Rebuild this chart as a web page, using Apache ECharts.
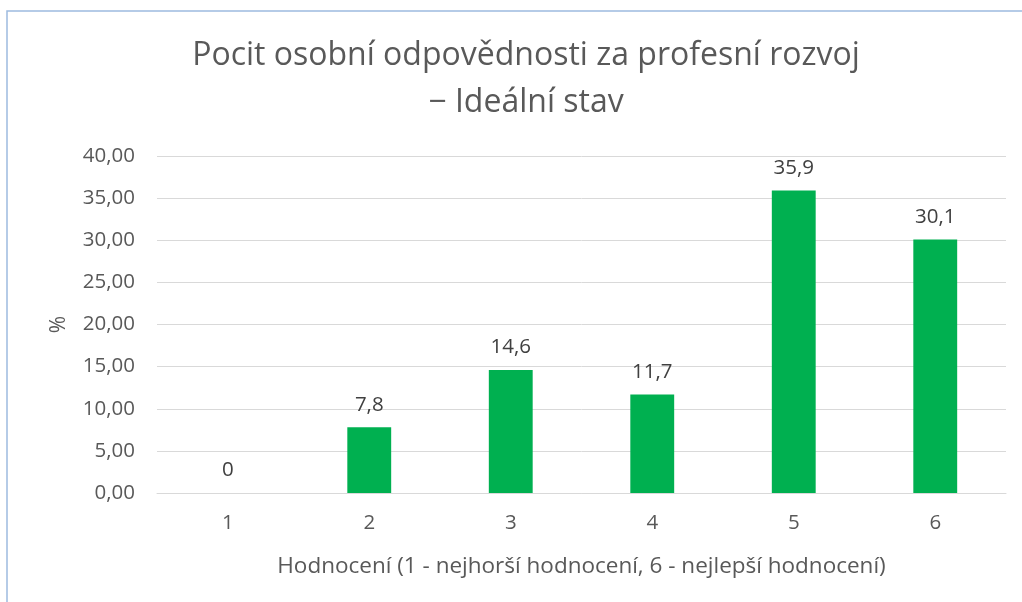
<!DOCTYPE html>
<html>
<head>
    <meta charset="utf-8">
    <script src="https://cdn.jsdelivr.net/npm/echarts@6/dist/echarts.min.js"></script>
    <style>
        html, body { margin: 0; padding: 0; background: #fff; }
    </style>
</head>
<body>
<div id="main" style="width: 1022px;height:602px;"></div>
<script type="text/javascript">
    // data
    var categories = ['1', '2', '3', '4', '5', '6'];
    var values = [0, 7.8, 14.6, 11.7, 35.9, 30.1];
    var titleText = 'Pocit osobní odpovědnosti za profesní rozvoj\n− Ideální stav';
    var xName = 'Hodnocení (1 - nejhorší hodnocení, 6 - nejlepší hodnocení)';
    var yName = '%';

    var font = 'Open Sans';
    var myChart = echarts.init(document.getElementById('main'));

    var option = {
        animation: false,
        graphic: [{
            type: 'rect',
            shape: { x: 7, y: 11, width: 1200, height: 800 },
            style: { fill: 'none', stroke: '#9dbbe0', lineWidth: 1.5 },
            silent: true
        }],
        title: {
            text: titleText,
            left: 521,
            textAlign: 'center',
            top: 27,
            textStyle: {
                fontFamily: font,
                fontSize: 32,
                fontWeight: 'normal',
                color: '#595959',
                lineHeight: 47
            }
        },
        grid: { left: 157, right: 16, top: 156, bottom: 109 },
        xAxis: {
            type: 'category',
            data: categories,
            name: xName,
            nameLocation: 'middle',
            nameGap: 62,
            nameTextStyle: { fontFamily: font, fontSize: 22.5, color: '#595959' },
            axisLine: { lineStyle: { color: '#d9d9d9', width: 1 } },
            axisTick: { show: false },
            axisLabel: { fontFamily: font, fontSize: 20.5, color: '#595959', margin: 20 }
        },
        yAxis: {
            type: 'value',
            min: 0,
            max: 40,
            interval: 5,
            name: yName,
            nameLocation: 'middle',
            nameGap: 87,
            nameRotate: 90,
            nameTextStyle: { fontFamily: font, fontSize: 21, color: '#595959' },
            axisLine: { show: false },
            axisTick: { show: false },
            splitLine: { lineStyle: { color: '#d9d9d9', width: 1 } },
            axisLabel: {
                fontFamily: font, fontSize: 20.5, color: '#595959', margin: 22,
                formatter: function (v) { return v.toFixed(2).replace('.', ','); }
            }
        },
        series: [{
            type: 'bar',
            data: values,
            barWidth: '31%',
            itemStyle: { color: '#00b050' },
            label: {
                show: true,
                position: 'top',
                distance: 12,
                fontFamily: font,
                fontSize: 20.5,
                color: '#404040',
                formatter: function (p) { return String(p.value).replace('.', ','); }
            }
        }]
    };

    myChart.setOption(option);
</script>
</body>
</html>
